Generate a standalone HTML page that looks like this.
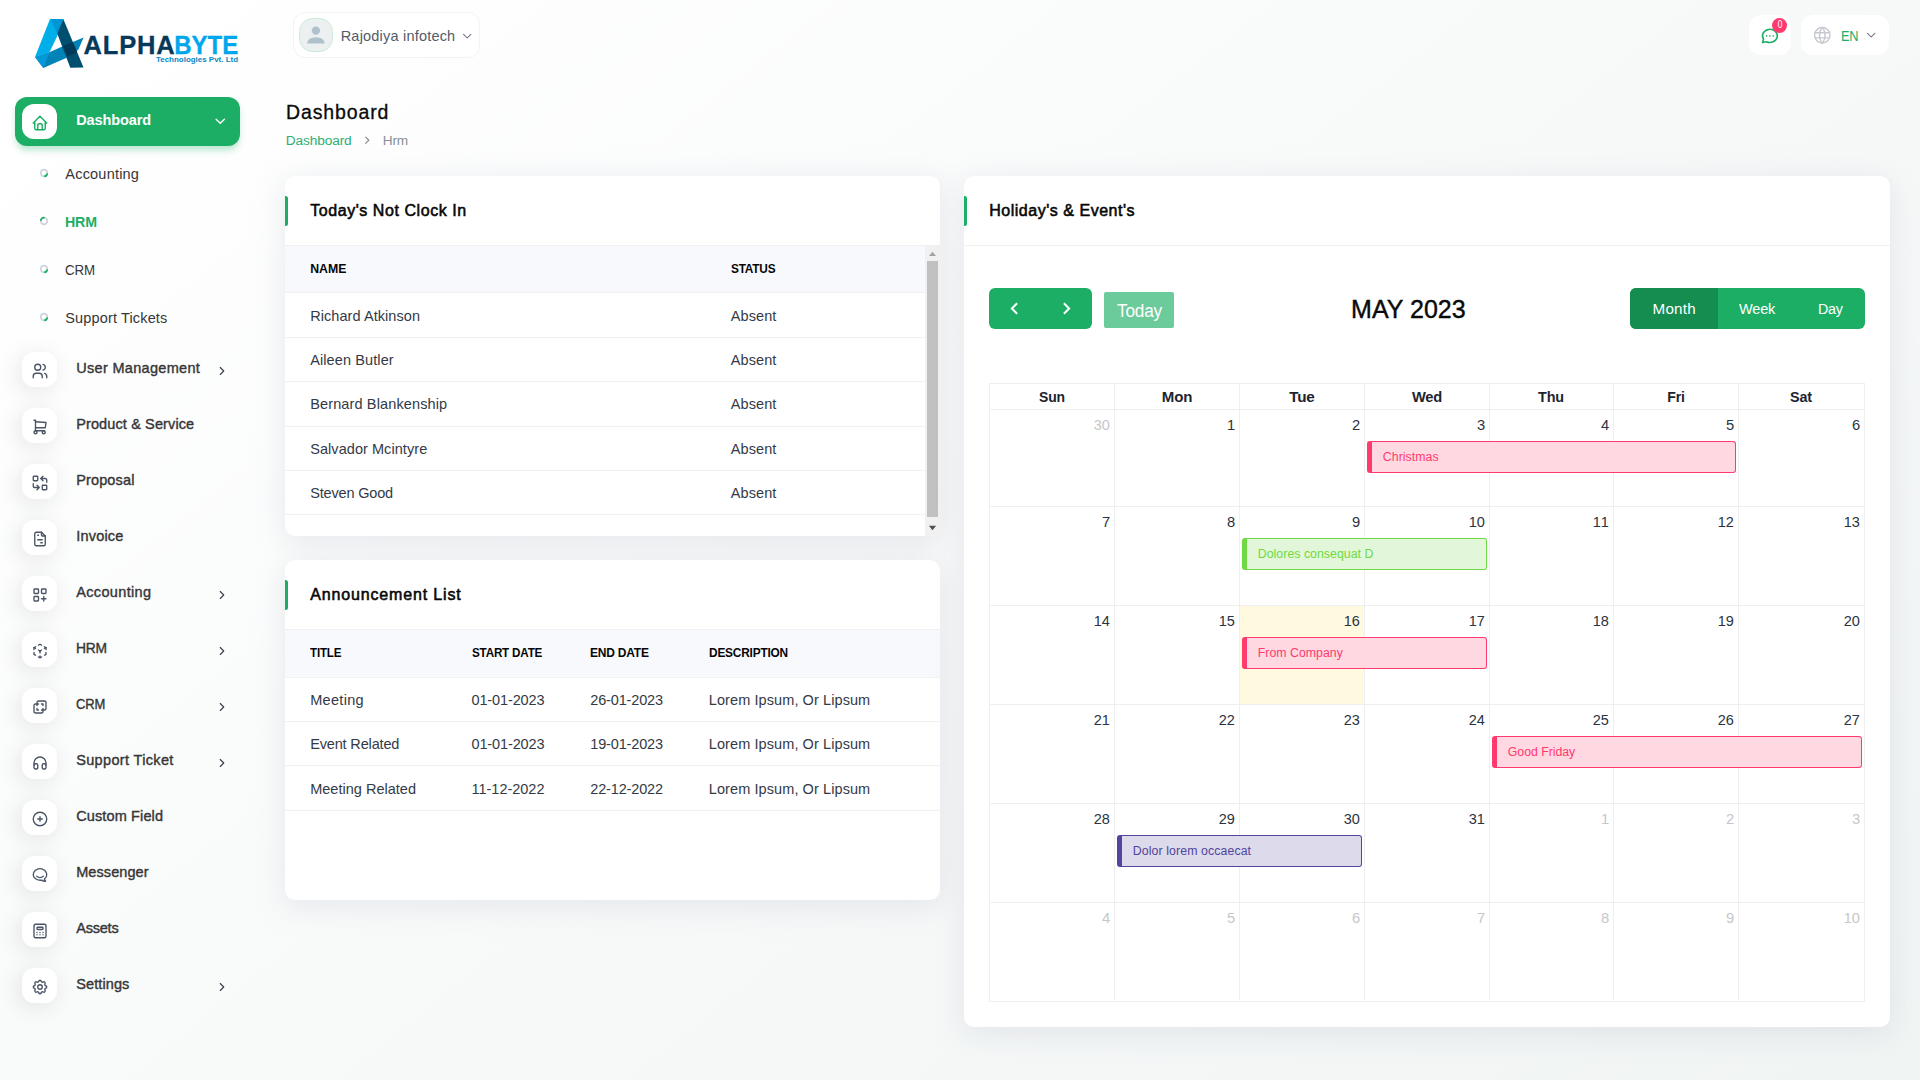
<!DOCTYPE html>
<html lang="en"><head><meta charset="utf-8"><title>Dashboard - HRM</title>
<style>
html,body{margin:0;padding:0}
body{width:1920px;height:1080px;overflow:hidden;position:relative;font-family:"Liberation Sans", Arial, sans-serif;
background:linear-gradient(141.55deg,rgba(240,244,243,0) 3.46%,#f0f4f3 99.86%),#fff}
.t{position:absolute;white-space:nowrap;margin:0;padding:0}
.mic{position:absolute;width:35px;height:35px;border-radius:12px;background:#fff;box-shadow:-3px 4px 23px rgba(0,0,0,.1)}
.card{position:absolute;background:#fff;border-radius:10px;box-shadow:0 6px 30px rgba(182,186,203,.3)}
</style></head>
<body>
<aside>
<svg style="position:absolute;left:30px;top:14px" width="215" height="60" viewBox="30 14 215 60">
<polygon points="50,19 63.3,19 57.2,35.9 50.6,50.1 49.4,52.3 35,57.1" fill="#00aeea"/>
<polygon points="50.6,19 63.3,19 57.2,33.4" fill="#0096d6"/>
<polygon points="35,57.1 49.4,52.3 61.7,46.8 73.3,41.8 83.6,37.6 78.3,49.8 66.1,57.9 43.3,67.9" fill="#0083b7"/>
<polygon points="35,57.1 49.6,52.2 43.3,67.9" fill="#0098d6"/>
<polygon points="63.3,19 83.5,67.5 70.3,67.7 57.2,33.4" fill="#004f70"/>
<polygon points="62.8,46.2 72.8,42.1 77.3,52.4 67.3,56.5" fill="#003a58"/>
<text x="83.6" y="53.75" font-family='"Liberation Sans", Arial, sans-serif' font-weight="700" font-size="25.5" textLength="91" lengthAdjust="spacing" fill="#06395a" stroke="#06395a" stroke-width="0.3">ALPHA</text>
<text x="174.3" y="53.75" font-family='"Liberation Sans", Arial, sans-serif' font-weight="700" font-size="25.5" textLength="63.9" lengthAdjust="spacingAndGlyphs" fill="#00a7ec" stroke="#00a7ec" stroke-width="0.3">BYTE</text>
<text x="156" y="62.4" font-family='"Liberation Sans", Arial, sans-serif' font-weight="700" font-size="7.6" textLength="82" lengthAdjust="spacingAndGlyphs" fill="#0a86c2">Technologies Pvt. Ltd</text>
</svg>
<nav>
<div style="position:absolute;left:15px;top:97px;width:225px;height:49px;border-radius:12px;background:#1cae65;box-shadow:0 5px 7px -1px rgba(20,173,98,.3)"></div>
<div class="mic" style="left:22px;top:104px;box-shadow:none"></div>
<svg style="position:absolute;left:31.10px;top:113.50px" width="18" height="18" viewBox="0 0 24 24" fill="none" stroke="#1cae65" stroke-width="1.9" stroke-linecap="round" stroke-linejoin="round" ><path d="M5 12l-2 0l9 -9l9 9l-2 0"/><path d="M5 12v7a2 2 0 0 0 2 2h10a2 2 0 0 0 2 -2v-7"/><path d="M9 21v-6a2 2 0 0 1 2 -2h2a2 2 0 0 1 2 2v6"/></svg>
<div class="t" style="top:109.00px;font-size:14.5px;line-height:22px;color:#fff;font-weight:700;letter-spacing:-0.094px;left:76.20px;">Dashboard</div>
<svg style="position:absolute;left:212.25px;top:113.05px" width="16.5" height="16.5" viewBox="0 0 24 24" fill="none" stroke="#fff" stroke-width="2.0" stroke-linecap="round" stroke-linejoin="round" ><path d="M6 9l6 6l6 -6"/></svg>
<svg style="position:absolute;left:38px;top:167.2px" width="12" height="12" viewBox="-6 -6 12 12" fill="none" stroke-width="1.7" stroke-linecap="butt"><circle cx="0" cy="0" r="3.3" stroke="#ced2dd"/><path d="M 3.3 0.3 A 3.3 3.3 0 0 1 0.2 3.3" stroke="#1cae65"/></svg>
<div class="t" style="top:162.50px;font-size:14.5px;line-height:22px;color:#363636;letter-spacing:0.206px;left:65.30px;">Accounting</div>
<svg style="position:absolute;left:38px;top:215.2px" width="12" height="12" viewBox="-6 -6 12 12" fill="none" stroke-width="1.7" stroke-linecap="butt"><circle cx="0" cy="0" r="3.3" stroke="#ced2dd"/><path d="M -3.3 0 A 3.3 3.3 0 0 1 0.6 -3.25" stroke="#1cae65"/></svg>
<div class="t" style="top:210.50px;font-size:14.5px;line-height:22px;color:#1cae65;font-weight:700;letter-spacing:-0.200px;left:65.30px;transform-origin:0 50%;transform:scaleX(0.9807);">HRM</div>
<svg style="position:absolute;left:38px;top:263.2px" width="12" height="12" viewBox="-6 -6 12 12" fill="none" stroke-width="1.7" stroke-linecap="butt"><circle cx="0" cy="0" r="3.3" stroke="#ced2dd"/><path d="M 3.3 0.3 A 3.3 3.3 0 0 1 0.2 3.3" stroke="#1cae65"/></svg>
<div class="t" style="top:258.50px;font-size:14.5px;line-height:22px;color:#363636;letter-spacing:-0.200px;left:65.30px;transform-origin:0 50%;transform:scaleX(0.9194);">CRM</div>
<svg style="position:absolute;left:38px;top:311.2px" width="12" height="12" viewBox="-6 -6 12 12" fill="none" stroke-width="1.7" stroke-linecap="butt"><circle cx="0" cy="0" r="3.3" stroke="#ced2dd"/><path d="M 3.3 0.3 A 3.3 3.3 0 0 1 0.2 3.3" stroke="#1cae65"/></svg>
<div class="t" style="top:306.50px;font-size:14.5px;line-height:22px;color:#363636;letter-spacing:0.147px;left:65.30px;">Support Tickets</div>
<div class="mic" style="left:22px;top:352px"></div>
<svg style="position:absolute;left:30.70px;top:361.80px" width="18" height="18" viewBox="0 0 24 24" fill="none" stroke="#4a5464" stroke-width="1.8" stroke-linecap="round" stroke-linejoin="round" ><circle cx="9" cy="7" r="4"/><path d="M3 21v-2a4 4 0 0 1 4 -4h4a4 4 0 0 1 4 4v2"/><path d="M16 3.13a4 4 0 0 1 0 7.75"/><path d="M21 21v-2a4 4 0 0 0 -3 -3.85"/></svg>
<div class="t" style="top:357.00px;font-size:14.5px;line-height:22px;color:#363636;letter-spacing:0.316px;left:76.20px;-webkit-text-stroke:0.38px #363636;">User Management</div>
<svg style="position:absolute;left:214.70px;top:363.80px" width="14" height="14" viewBox="0 0 24 24" fill="none" stroke="#3a3f48" stroke-width="1.9" stroke-linecap="round" stroke-linejoin="round" ><path d="M9 18l6 -6l-6 -6"/></svg>
<div class="mic" style="left:22px;top:408px"></div>
<svg style="position:absolute;left:30.70px;top:417.80px" width="18" height="18" viewBox="0 0 24 24" fill="none" stroke="#4a5464" stroke-width="1.8" stroke-linecap="round" stroke-linejoin="round" ><circle cx="6" cy="19" r="2"/><circle cx="17" cy="19" r="2"/><path d="M17 17h-11v-14h-2"/><path d="M6 5l14 1l-1 7h-13"/></svg>
<div class="t" style="top:413.00px;font-size:14.5px;line-height:22px;color:#363636;letter-spacing:0.121px;left:76.20px;-webkit-text-stroke:0.38px #363636;">Product &amp; Service</div>
<div class="mic" style="left:22px;top:464px"></div>
<svg style="position:absolute;left:30.70px;top:473.80px" width="18" height="18" viewBox="0 0 24 24" fill="none" stroke="#4a5464" stroke-width="1.8" stroke-linecap="round" stroke-linejoin="round" ><rect x="3" y="3" width="6" height="6" rx="1"/><rect x="15" y="15" width="6" height="6" rx="1"/><path d="M21 11v-3a2 2 0 0 0 -2 -2h-6l3 3m0 -6l-3 3"/><path d="M3 13v3a2 2 0 0 0 2 2h6l-3 -3m0 6l3 -3"/></svg>
<div class="t" style="top:469.00px;font-size:14.5px;line-height:22px;color:#363636;letter-spacing:0.138px;left:76.20px;-webkit-text-stroke:0.38px #363636;">Proposal</div>
<div class="mic" style="left:22px;top:520px"></div>
<svg style="position:absolute;left:30.70px;top:529.80px" width="18" height="18" viewBox="0 0 24 24" fill="none" stroke="#4a5464" stroke-width="1.8" stroke-linecap="round" stroke-linejoin="round" ><path d="M14 3v4a1 1 0 0 0 1 1h4"/><path d="M17 21h-10a2 2 0 0 1 -2 -2v-14a2 2 0 0 1 2 -2h7l5 5v11a2 2 0 0 1 -2 2z"/><path d="M9 7h1"/><path d="M9 13h6"/><path d="M13 17h2"/></svg>
<div class="t" style="top:525.00px;font-size:14.5px;line-height:22px;color:#363636;letter-spacing:0.208px;left:76.20px;-webkit-text-stroke:0.38px #363636;">Invoice</div>
<div class="mic" style="left:22px;top:576px"></div>
<svg style="position:absolute;left:30.70px;top:585.80px" width="18" height="18" viewBox="0 0 24 24" fill="none" stroke="#4a5464" stroke-width="1.8" stroke-linecap="round" stroke-linejoin="round" ><rect x="4" y="4" width="6" height="6" rx="1"/><rect x="14" y="4" width="6" height="6" rx="1"/><rect x="4" y="14" width="6" height="6" rx="1"/><path d="M14 17h6m-3 -3v6"/></svg>
<div class="t" style="top:581.00px;font-size:14.5px;line-height:22px;color:#363636;letter-spacing:0.350px;left:76.20px;-webkit-text-stroke:0.38px #363636;">Accounting</div>
<svg style="position:absolute;left:214.70px;top:587.80px" width="14" height="14" viewBox="0 0 24 24" fill="none" stroke="#3a3f48" stroke-width="1.9" stroke-linecap="round" stroke-linejoin="round" ><path d="M9 18l6 -6l-6 -6"/></svg>
<div class="mic" style="left:22px;top:632px"></div>
<svg style="position:absolute;left:30.70px;top:641.80px" width="18" height="18" viewBox="0 0 24 24" fill="none" stroke="#4a5464" stroke-width="1.8" stroke-linecap="round" stroke-linejoin="round" ><path d="M6 17.6l-2 -1.1v-2.5"/><path d="M4 10v-2.5l2 -1.1"/><path d="M10 4.1l2 -1.1l2 1.1"/><path d="M18 6.4l2 1.1v2.5"/><path d="M20 14v2.5l-2 1.12"/><path d="M14 19.9l-2 1.1l-2 -1.1"/><path d="M12 12l2 -1.1"/><path d="M18 8.6l2 -1.1"/><path d="M12 12v2.5"/><path d="M12 18.5v2.5"/><path d="M12 12l-2 -1.12"/><path d="M6 8.6l-2 -1.1"/></svg>
<div class="t" style="top:637.00px;font-size:14.5px;line-height:22px;color:#363636;letter-spacing:-0.200px;left:76.20px;transform-origin:0 50%;transform:scaleX(0.9531);-webkit-text-stroke:0.38px #363636;">HRM</div>
<svg style="position:absolute;left:214.70px;top:643.80px" width="14" height="14" viewBox="0 0 24 24" fill="none" stroke="#3a3f48" stroke-width="1.9" stroke-linecap="round" stroke-linejoin="round" ><path d="M9 18l6 -6l-6 -6"/></svg>
<div class="mic" style="left:22px;top:688px"></div>
<svg style="position:absolute;left:30.70px;top:697.80px" width="18" height="18" viewBox="0 0 24 24" fill="none" stroke="#4a5464" stroke-width="1.8" stroke-linecap="round" stroke-linejoin="round" ><path d="M16 16v2a2 2 0 0 1 -2 2h-8a2 2 0 0 1 -2 -2v-8a2 2 0 0 1 2 -2h2v-2a2 2 0 0 1 2 -2h8a2 2 0 0 1 2 2v8a2 2 0 0 1 -2 2h-2"/><path d="M10 8h-2v2"/><path d="M8 14v2h2"/><path d="M14 8h2v2"/><path d="M16 14v2h-2"/></svg>
<div class="t" style="top:693.00px;font-size:14.5px;line-height:22px;color:#363636;letter-spacing:-0.200px;left:76.20px;transform-origin:0 50%;transform:scaleX(0.8948);-webkit-text-stroke:0.38px #363636;">CRM</div>
<svg style="position:absolute;left:214.70px;top:699.80px" width="14" height="14" viewBox="0 0 24 24" fill="none" stroke="#3a3f48" stroke-width="1.9" stroke-linecap="round" stroke-linejoin="round" ><path d="M9 18l6 -6l-6 -6"/></svg>
<div class="mic" style="left:22px;top:744px"></div>
<svg style="position:absolute;left:30.70px;top:753.80px" width="18" height="18" viewBox="0 0 24 24" fill="none" stroke="#4a5464" stroke-width="1.8" stroke-linecap="round" stroke-linejoin="round" ><rect x="4" y="13" width="5" height="7" rx="2"/><rect x="15" y="13" width="5" height="7" rx="2"/><path d="M4 15v-3a8 8 0 0 1 16 0v3"/></svg>
<div class="t" style="top:749.00px;font-size:14.5px;line-height:22px;color:#363636;letter-spacing:0.347px;left:76.20px;-webkit-text-stroke:0.38px #363636;">Support Ticket</div>
<svg style="position:absolute;left:214.70px;top:755.80px" width="14" height="14" viewBox="0 0 24 24" fill="none" stroke="#3a3f48" stroke-width="1.9" stroke-linecap="round" stroke-linejoin="round" ><path d="M9 18l6 -6l-6 -6"/></svg>
<div class="mic" style="left:22px;top:800px"></div>
<svg style="position:absolute;left:30.70px;top:809.80px" width="18" height="18" viewBox="0 0 24 24" fill="none" stroke="#4a5464" stroke-width="1.8" stroke-linecap="round" stroke-linejoin="round" ><circle cx="12" cy="12" r="9"/><path d="M9 12h6"/><path d="M12 9v6"/></svg>
<div class="t" style="top:805.00px;font-size:14.5px;line-height:22px;color:#363636;letter-spacing:0.125px;left:76.20px;-webkit-text-stroke:0.38px #363636;">Custom Field</div>
<div class="mic" style="left:22px;top:856px"></div>
<svg style="position:absolute;left:30.70px;top:865.80px" width="18" height="18" viewBox="0 0 24 24" fill="none" stroke="#4a5464" stroke-width="1.8" stroke-linecap="round" stroke-linejoin="round" ><path d="M17.802 17.292s.077 -.055 .2 -.149c1.843 -1.425 3 -3.49 3 -5.789c0 -4.286 -4.03 -7.764 -9 -7.764c-4.97 0 -9 3.478 -9 7.764c0 4.288 4.03 7.646 9 7.646c.424 0 1.12 -.028 2.088 -.084c1.262 .82 3.104 1.493 4.716 1.493c.499 0 .734 -.41 .414 -.828c-.486 -.596 -1.156 -1.551 -1.416 -2.29z"/><path d="M7.5 13.5c2.5 2.5 6.5 2.5 9 0"/></svg>
<div class="t" style="top:861.00px;font-size:14.5px;line-height:22px;color:#363636;letter-spacing:0.083px;left:76.20px;-webkit-text-stroke:0.38px #363636;">Messenger</div>
<div class="mic" style="left:22px;top:912px"></div>
<svg style="position:absolute;left:30.70px;top:921.80px" width="18" height="18" viewBox="0 0 24 24" fill="none" stroke="#4a5464" stroke-width="1.8" stroke-linecap="round" stroke-linejoin="round" ><rect x="4" y="3" width="16" height="18" rx="2"/><rect x="8" y="7" width="8" height="3" rx="1"/><path d="M8 14v.01"/><path d="M12 14v.01"/><path d="M16 14v.01"/><path d="M8 17v.01"/><path d="M12 17v.01"/><path d="M16 17v.01"/></svg>
<div class="t" style="top:917.00px;font-size:14.5px;line-height:22px;color:#363636;letter-spacing:-0.203px;left:76.20px;-webkit-text-stroke:0.38px #363636;">Assets</div>
<div class="mic" style="left:22px;top:968px"></div>
<svg style="position:absolute;left:30.70px;top:977.80px" width="18" height="18" viewBox="0 0 24 24" fill="none" stroke="#4a5464" stroke-width="1.8" stroke-linecap="round" stroke-linejoin="round" ><path d="M10.325 4.317c.426 -1.756 2.924 -1.756 3.35 0a1.724 1.724 0 0 0 2.573 1.066c1.543 -.94 3.31 .826 2.37 2.37a1.724 1.724 0 0 0 1.065 2.572c1.756 .426 1.756 2.924 0 3.35a1.724 1.724 0 0 0 -1.066 2.573c.94 1.543 -.826 3.31 -2.37 2.37a1.724 1.724 0 0 0 -2.572 1.065c-.426 1.756 -2.924 1.756 -3.35 0a1.724 1.724 0 0 0 -2.573 -1.066c-1.543 .94 -3.31 -.826 -2.37 -2.37a1.724 1.724 0 0 0 -1.065 -2.572c-1.756 -.426 -1.756 -2.924 0 -3.35a1.724 1.724 0 0 0 1.066 -2.573c-.94 -1.543 .826 -3.31 2.37 -2.37c1 .608 2.296 .07 2.572 -1.065z"/><circle cx="12" cy="12" r="3"/></svg>
<div class="t" style="top:973.00px;font-size:14.5px;line-height:22px;color:#363636;letter-spacing:0.113px;left:76.20px;-webkit-text-stroke:0.38px #363636;">Settings</div>
<svg style="position:absolute;left:214.70px;top:979.80px" width="14" height="14" viewBox="0 0 24 24" fill="none" stroke="#3a3f48" stroke-width="1.9" stroke-linecap="round" stroke-linejoin="round" ><path d="M9 18l6 -6l-6 -6"/></svg>
</nav></aside>
<header>
<div style="position:absolute;left:293.4px;top:11.6px;width:186.2px;height:46.6px;box-sizing:border-box;border:1px solid #f3f3f3;border-radius:12px;background:#fff"></div>
<div style="position:absolute;left:299px;top:18px;width:34px;height:34px;box-sizing:border-box;border:1px solid #c9ecd9;border-radius:13.5px;background:#ecf0f1;overflow:hidden"><svg width="32" height="32" viewBox="0 0 32 32" style="display:block"><circle cx="15.9" cy="11.6" r="4.15" fill="#afc2cc"/><path d="M7.2 24.4c0-3.3 3.4-6.2 8.7-6.2s8.7 2.9 8.7 6.2z" fill="#afc2cc"/></svg></div>
<div class="t" style="top:24.50px;font-size:14.5px;line-height:22px;color:#525b69;letter-spacing:0.203px;left:340.70px;">Rajodiya infotech</div>
<svg style="position:absolute;left:460.00px;top:28.60px" width="14.4" height="14.4" viewBox="0 0 24 24" fill="none" stroke="#656d79" stroke-width="1.7" stroke-linecap="round" stroke-linejoin="round" ><path d="M6 9l6 6l6 -6"/></svg>
<div style="position:absolute;left:1749px;top:15px;width:42px;height:40px;border-radius:12px;background:#fff"></div>
<svg style="position:absolute;left:1759.90px;top:25.90px" width="19.8" height="19.8" viewBox="0 0 24 24" fill="none" stroke="#1cae65" stroke-width="1.9" stroke-linecap="round" stroke-linejoin="round" ><path d="M3 20l1.3 -3.9a9 8 0 1 1 3.4 2.9l-4.7 1"/><path d="M12 12v.01"/><path d="M8 12v.01"/><path d="M16 12v.01"/></svg>
<div style="position:absolute;left:1772.2px;top:17.9px;width:14.8px;height:14.8px;border-radius:50%;background:#ff3a6e"></div>
<div class="t" style="top:17.10px;font-size:10.2px;line-height:15px;color:#fff;left:1779.80px;transform:translateX(-50%) scaleX(0.8110);">0</div>
<div style="position:absolute;left:1801px;top:15px;width:88px;height:40px;border-radius:12px;background:#fff"></div>
<svg style="position:absolute;left:1811.90px;top:25.40px" width="20.6" height="20.6" viewBox="0 0 24 24" fill="none" stroke="#c6c9d0" stroke-width="1.7" stroke-linecap="round" stroke-linejoin="round" ><circle cx="12" cy="12" r="9"/><path d="M3.6 9h16.8"/><path d="M3.6 15h16.8"/><path d="M11.5 3a17 17 0 0 0 0 18"/><path d="M12.5 3a17 17 0 0 1 0 18"/></svg>
<div class="t" style="top:24.70px;font-size:14.5px;line-height:22px;color:#1cae65;letter-spacing:-0.200px;left:1840.60px;transform-origin:0 50%;transform:scaleX(0.8819);">EN</div>
<svg style="position:absolute;left:1863.80px;top:28.40px" width="14.4" height="14.4" viewBox="0 0 24 24" fill="none" stroke="#656d79" stroke-width="1.7" stroke-linecap="round" stroke-linejoin="round" ><path d="M6 9l6 6l6 -6"/></svg>
</header>
<main>
<div class="t" style="top:98.40px;font-size:19.5px;line-height:29px;color:#0a0a0a;letter-spacing:0.874px;left:286.00px;-webkit-text-stroke:0.3px #0a0a0a;">Dashboard</div>
<div class="t" style="top:131.30px;font-size:13.7px;line-height:20px;color:#2fae72;letter-spacing:-0.121px;left:285.70px;">Dashboard</div>
<svg style="position:absolute;left:360.55px;top:133.85px" width="12.5" height="12.5" viewBox="0 0 24 24" fill="none" stroke="#8b919b" stroke-width="2.4" stroke-linecap="round" stroke-linejoin="round" ><path d="M9 18l6 -6l-6 -6"/></svg>
<div class="t" style="top:131.30px;font-size:13.7px;line-height:20px;color:#8a9099;letter-spacing:-0.130px;left:382.70px;">Hrm</div>
<section>
<div class="card" style="left:285px;top:176px;width:655px;height:360px"></div>
<div style="position:absolute;left:285px;top:196px;width:3px;height:30px;background:#1cae65;border-radius:0 2.5px 2.5px 0"></div>
<div style="position:absolute;left:285px;top:245px;width:655px;height:1px;background:#f1f1f1"></div>
<div class="t" style="top:199.20px;font-size:16px;line-height:24px;color:#060606;letter-spacing:0.561px;left:310.20px;-webkit-text-stroke:0.55px #060606;">Today's Not Clock In</div>
<div style="position:absolute;left:285px;top:246px;width:640px;height:46px;background:#f8f9fd"></div>
<div style="position:absolute;left:285px;top:292px;width:640px;height:1px;background:#f1f1f1"></div>
<div class="t" style="top:260.00px;font-size:12.3px;line-height:18px;color:#060606;font-weight:700;letter-spacing:-0.006px;left:310.20px;">NAME</div>
<div class="t" style="top:260.00px;font-size:12.3px;line-height:18px;color:#060606;font-weight:700;letter-spacing:-0.200px;left:730.80px;transform-origin:0 50%;transform:scaleX(0.9617);">STATUS</div>
<div class="t" style="top:304.60px;font-size:14.5px;line-height:22px;color:#333a46;letter-spacing:0.066px;left:310.20px;">Richard Atkinson</div>
<div class="t" style="top:304.60px;font-size:14.5px;line-height:22px;color:#333a46;letter-spacing:0.089px;left:730.80px;">Absent</div>
<div style="position:absolute;left:285px;top:337.0px;width:640px;height:1px;background:#f1f1f1"></div>
<div class="t" style="top:348.90px;font-size:14.5px;line-height:22px;color:#333a46;letter-spacing:0.107px;left:310.20px;">Aileen Butler</div>
<div class="t" style="top:348.90px;font-size:14.5px;line-height:22px;color:#333a46;letter-spacing:0.089px;left:730.80px;">Absent</div>
<div style="position:absolute;left:285px;top:381.3px;width:640px;height:1px;background:#f1f1f1"></div>
<div class="t" style="top:393.20px;font-size:14.5px;line-height:22px;color:#333a46;letter-spacing:0.132px;left:310.20px;">Bernard Blankenship</div>
<div class="t" style="top:393.20px;font-size:14.5px;line-height:22px;color:#333a46;letter-spacing:0.089px;left:730.80px;">Absent</div>
<div style="position:absolute;left:285px;top:425.6px;width:640px;height:1px;background:#f1f1f1"></div>
<div class="t" style="top:437.50px;font-size:14.5px;line-height:22px;color:#333a46;letter-spacing:0.060px;left:310.20px;">Salvador Mcintyre</div>
<div class="t" style="top:437.50px;font-size:14.5px;line-height:22px;color:#333a46;letter-spacing:0.089px;left:730.80px;">Absent</div>
<div style="position:absolute;left:285px;top:469.9px;width:640px;height:1px;background:#f1f1f1"></div>
<div class="t" style="top:481.80px;font-size:14.5px;line-height:22px;color:#333a46;letter-spacing:-0.166px;left:310.20px;">Steven Good</div>
<div class="t" style="top:481.80px;font-size:14.5px;line-height:22px;color:#333a46;letter-spacing:0.089px;left:730.80px;">Absent</div>
<div style="position:absolute;left:285px;top:514.2px;width:640px;height:1px;background:#f1f1f1"></div>
<div style="position:absolute;left:925px;top:246px;width:15px;height:290px;background:#f1f1f1;border-radius:0 0 10px 0"></div>
<div style="position:absolute;left:927px;top:261px;width:11px;height:255.9px;background:#c1c1c1"></div>
<svg style="position:absolute;left:925px;top:246px" width="15" height="290" viewBox="0 0 15 290"><path d="M3.9 10.1h7.2l-3.6-4.4z" fill="#a3a3a3"/><path d="M3.9 279.8h7.2l-3.6 4.4z" fill="#505050"/></svg>
</section>
<section>
<div class="card" style="left:285px;top:560px;width:655px;height:340px"></div>
<div style="position:absolute;left:285px;top:580px;width:3px;height:30px;background:#1cae65;border-radius:0 2.5px 2.5px 0"></div>
<div style="position:absolute;left:285px;top:629px;width:655px;height:1px;background:#f1f1f1"></div>
<div class="t" style="top:583.20px;font-size:16px;line-height:24px;color:#060606;letter-spacing:0.851px;left:310.20px;-webkit-text-stroke:0.55px #060606;">Announcement List</div>
<div style="position:absolute;left:285px;top:630px;width:655px;height:47px;background:#f8f9fd"></div>
<div style="position:absolute;left:285px;top:677px;width:655px;height:1px;background:#f1f1f1"></div>
<div class="t" style="top:644.30px;font-size:12.3px;line-height:18px;color:#060606;font-weight:700;letter-spacing:-0.200px;left:310.20px;transform-origin:0 50%;transform:scaleX(0.9414);">TITLE</div>
<div class="t" style="top:644.30px;font-size:12.3px;line-height:18px;color:#060606;font-weight:700;letter-spacing:-0.200px;left:471.50px;transform-origin:0 50%;transform:scaleX(0.9480);">START DATE</div>
<div class="t" style="top:644.30px;font-size:12.3px;line-height:18px;color:#060606;font-weight:700;letter-spacing:-0.200px;left:590.30px;transform-origin:0 50%;transform:scaleX(0.9744);">END DATE</div>
<div class="t" style="top:644.30px;font-size:12.3px;line-height:18px;color:#060606;font-weight:700;letter-spacing:-0.200px;left:708.80px;transform-origin:0 50%;transform:scaleX(0.9653);">DESCRIPTION</div>
<div class="t" style="top:688.50px;font-size:14.5px;line-height:22px;color:#333a46;letter-spacing:0.318px;left:310.20px;">Meeting</div>
<div class="t" style="top:688.50px;font-size:14.5px;line-height:22px;color:#333a46;letter-spacing:-0.130px;left:471.50px;">01-01-2023</div>
<div class="t" style="top:688.50px;font-size:14.5px;line-height:22px;color:#333a46;letter-spacing:-0.152px;left:590.30px;">26-01-2023</div>
<div class="t" style="top:688.50px;font-size:14.5px;line-height:22px;color:#333a46;letter-spacing:0.088px;left:708.80px;">Lorem Ipsum, Or Lipsum</div>
<div style="position:absolute;left:285px;top:721px;width:655px;height:1px;background:#f1f1f1"></div>
<div class="t" style="top:733.00px;font-size:14.5px;line-height:22px;color:#333a46;letter-spacing:-0.158px;left:310.20px;">Event Related</div>
<div class="t" style="top:733.00px;font-size:14.5px;line-height:22px;color:#333a46;letter-spacing:-0.130px;left:471.50px;">01-01-2023</div>
<div class="t" style="top:733.00px;font-size:14.5px;line-height:22px;color:#333a46;letter-spacing:-0.152px;left:590.30px;">19-01-2023</div>
<div class="t" style="top:733.00px;font-size:14.5px;line-height:22px;color:#333a46;letter-spacing:0.088px;left:708.80px;">Lorem Ipsum, Or Lipsum</div>
<div style="position:absolute;left:285px;top:765px;width:655px;height:1px;background:#f1f1f1"></div>
<div class="t" style="top:777.50px;font-size:14.5px;line-height:22px;color:#333a46;letter-spacing:0.015px;left:310.20px;">Meeting Related</div>
<div class="t" style="top:777.50px;font-size:14.5px;line-height:22px;color:#333a46;letter-spacing:-0.012px;left:471.50px;">11-12-2022</div>
<div class="t" style="top:777.50px;font-size:14.5px;line-height:22px;color:#333a46;letter-spacing:-0.152px;left:590.30px;">22-12-2022</div>
<div class="t" style="top:777.50px;font-size:14.5px;line-height:22px;color:#333a46;letter-spacing:0.088px;left:708.80px;">Lorem Ipsum, Or Lipsum</div>
<div style="position:absolute;left:285px;top:810px;width:655px;height:1px;background:#f1f1f1"></div>
</section>
<section>
<div class="card" style="left:964px;top:176px;width:926px;height:851px"></div>
<div style="position:absolute;left:964px;top:196px;width:3px;height:30px;background:#1cae65;border-radius:0 2.5px 2.5px 0"></div>
<div style="position:absolute;left:964px;top:245px;width:926px;height:1px;background:#f1f1f1"></div>
<div class="t" style="top:199.20px;font-size:16px;line-height:24px;color:#060606;letter-spacing:0.525px;left:989.20px;-webkit-text-stroke:0.55px #060606;">Holiday's &amp; Event's</div>
<div style="position:absolute;left:989px;top:288px;width:103px;height:41px;border-radius:6px;background:#1cae65"></div>
<svg style="position:absolute;left:1004.40px;top:298.40px" width="21" height="21" viewBox="0 0 24 24" fill="none" stroke="#fff" stroke-width="2.3" stroke-linecap="butt" stroke-linejoin="miter" ><path d="M15 18l-6 -6l6 -6"/></svg>
<svg style="position:absolute;left:1055.80px;top:298.40px" width="21" height="21" viewBox="0 0 24 24" fill="none" stroke="#fff" stroke-width="2.3" stroke-linecap="butt" stroke-linejoin="miter" ><path d="M9 18l6 -6l-6 -6"/></svg>
<div style="position:absolute;left:1104px;top:292px;width:70px;height:36px;border-radius:2px;background:#6bcb9b"></div>
<div class="t" style="top:297.70px;font-size:17.6px;line-height:26px;color:#fff;letter-spacing:-0.200px;left:1117.00px;transform-origin:0 50%;transform:scaleX(0.9793);">Today</div>
<div class="t" style="top:290.00px;font-size:25px;line-height:38px;color:#0a0a0a;letter-spacing:0.023px;left:1408.41px;transform:translateX(-50%) ;-webkit-text-stroke:0.4px #0a0a0a;">MAY 2023</div>
<div style="position:absolute;left:1630px;top:288px;width:235px;height:41px;border-radius:6px;background:#1cae65;overflow:hidden"><div style="width:88px;height:41px;background:#158c50"></div></div>
<div class="t" style="top:297.10px;font-size:15.2px;line-height:23px;color:#fff;letter-spacing:0.245px;left:1652.50px;">Month</div>
<div class="t" style="top:297.10px;font-size:15.2px;line-height:23px;color:#fff;letter-spacing:-0.200px;left:1738.70px;transform-origin:0 50%;transform:scaleX(0.9588);">Week</div>
<div class="t" style="top:297.10px;font-size:15.2px;line-height:23px;color:#fff;letter-spacing:-0.200px;left:1818.20px;transform-origin:0 50%;transform:scaleX(0.9393);">Day</div>
<div style="position:absolute;left:1240px;top:606px;width:124px;height:98px;background:#fff9e0"></div>
<div style="position:absolute;left:989px;top:383px;width:1px;height:619px;background:#efefef"></div>
<div style="position:absolute;left:1114px;top:383px;width:1px;height:617px;background:#efefef"></div>
<div style="position:absolute;left:1239px;top:383px;width:1px;height:617px;background:#efefef"></div>
<div style="position:absolute;left:1364px;top:383px;width:1px;height:617px;background:#efefef"></div>
<div style="position:absolute;left:1489px;top:383px;width:1px;height:617px;background:#efefef"></div>
<div style="position:absolute;left:1613px;top:383px;width:1px;height:617px;background:#efefef"></div>
<div style="position:absolute;left:1738px;top:383px;width:1px;height:617px;background:#efefef"></div>
<div style="position:absolute;left:1864px;top:383px;width:1px;height:619px;background:#efefef"></div>
<div style="position:absolute;left:989px;top:383px;width:876px;height:1px;background:#efefef"></div>
<div style="position:absolute;left:989px;top:409px;width:876px;height:1px;background:#efefef"></div>
<div style="position:absolute;left:989px;top:506px;width:876px;height:1px;background:#efefef"></div>
<div style="position:absolute;left:989px;top:605px;width:876px;height:1px;background:#efefef"></div>
<div style="position:absolute;left:989px;top:704px;width:876px;height:1px;background:#efefef"></div>
<div style="position:absolute;left:989px;top:803px;width:876px;height:1px;background:#efefef"></div>
<div style="position:absolute;left:989px;top:902px;width:876px;height:1px;background:#efefef"></div>
<div style="position:absolute;left:989px;top:1001px;width:876px;height:1px;background:#efefef"></div>
<div class="t" style="top:385.30px;font-size:15.2px;line-height:23px;color:#1d2430;font-weight:700;letter-spacing:-0.200px;left:1051.90px;transform:translateX(-50%) scaleX(0.9191);">Sun</div>
<div class="t" style="top:385.30px;font-size:15.2px;line-height:23px;color:#1d2430;font-weight:700;letter-spacing:-0.200px;left:1176.90px;transform:translateX(-50%) scaleX(0.9897);">Mon</div>
<div class="t" style="top:385.30px;font-size:15.2px;line-height:23px;color:#1d2430;font-weight:700;letter-spacing:-0.238px;left:1301.88px;transform:translateX(-50%) ;">Tue</div>
<div class="t" style="top:385.30px;font-size:15.2px;line-height:23px;color:#1d2430;font-weight:700;letter-spacing:-0.200px;left:1426.90px;transform:translateX(-50%) scaleX(0.9682);">Wed</div>
<div class="t" style="top:385.30px;font-size:15.2px;line-height:23px;color:#1d2430;font-weight:700;letter-spacing:-0.200px;left:1551.40px;transform:translateX(-50%) scaleX(0.9474);">Thu</div>
<div class="t" style="top:385.30px;font-size:15.2px;line-height:23px;color:#1d2430;font-weight:700;letter-spacing:-0.200px;left:1675.90px;transform:translateX(-50%) scaleX(0.9253);">Fri</div>
<div class="t" style="top:385.30px;font-size:15.2px;line-height:23px;color:#1d2430;font-weight:700;letter-spacing:-0.200px;left:1801.40px;transform:translateX(-50%) scaleX(0.9466);">Sat</div>
<div class="t" style="top:414.00px;font-size:14.5px;line-height:22px;color:#c5c7c9;letter-spacing:0.059px;right:810.14px;">30</div>
<div class="t" style="top:414.00px;font-size:14.5px;line-height:22px;color:#2b3340;right:685.20px;transform-origin:100% 50%;transform:scaleX(1.0151);">1</div>
<div class="t" style="top:414.00px;font-size:14.5px;line-height:22px;color:#2b3340;right:560.20px;transform-origin:100% 50%;transform:scaleX(1.0151);">2</div>
<div class="t" style="top:414.00px;font-size:14.5px;line-height:22px;color:#2b3340;right:435.20px;transform-origin:100% 50%;transform:scaleX(1.0151);">3</div>
<div class="t" style="top:414.00px;font-size:14.5px;line-height:22px;color:#2b3340;right:311.20px;transform-origin:100% 50%;transform:scaleX(1.0151);">4</div>
<div class="t" style="top:414.00px;font-size:14.5px;line-height:22px;color:#2b3340;right:186.20px;transform-origin:100% 50%;transform:scaleX(1.0151);">5</div>
<div class="t" style="top:414.00px;font-size:14.5px;line-height:22px;color:#2b3340;right:60.20px;transform-origin:100% 50%;transform:scaleX(1.0151);">6</div>
<div class="t" style="top:511.00px;font-size:14.5px;line-height:22px;color:#2b3340;right:810.20px;transform-origin:100% 50%;transform:scaleX(1.0151);">7</div>
<div class="t" style="top:511.00px;font-size:14.5px;line-height:22px;color:#2b3340;right:685.20px;transform-origin:100% 50%;transform:scaleX(1.0151);">8</div>
<div class="t" style="top:511.00px;font-size:14.5px;line-height:22px;color:#2b3340;right:560.20px;transform-origin:100% 50%;transform:scaleX(1.0151);">9</div>
<div class="t" style="top:511.00px;font-size:14.5px;line-height:22px;color:#2b3340;letter-spacing:0.059px;right:435.14px;">10</div>
<div class="t" style="top:511.00px;font-size:14.5px;line-height:22px;color:#2b3340;letter-spacing:1.137px;right:310.06px;">11</div>
<div class="t" style="top:511.00px;font-size:14.5px;line-height:22px;color:#2b3340;letter-spacing:0.059px;right:186.14px;">12</div>
<div class="t" style="top:511.00px;font-size:14.5px;line-height:22px;color:#2b3340;letter-spacing:0.059px;right:60.14px;">13</div>
<div class="t" style="top:610.00px;font-size:14.5px;line-height:22px;color:#2b3340;letter-spacing:0.059px;right:810.14px;">14</div>
<div class="t" style="top:610.00px;font-size:14.5px;line-height:22px;color:#2b3340;letter-spacing:0.059px;right:685.14px;">15</div>
<div class="t" style="top:610.00px;font-size:14.5px;line-height:22px;color:#2b3340;letter-spacing:0.059px;right:560.14px;">16</div>
<div class="t" style="top:610.00px;font-size:14.5px;line-height:22px;color:#2b3340;letter-spacing:0.059px;right:435.14px;">17</div>
<div class="t" style="top:610.00px;font-size:14.5px;line-height:22px;color:#2b3340;letter-spacing:0.059px;right:311.14px;">18</div>
<div class="t" style="top:610.00px;font-size:14.5px;line-height:22px;color:#2b3340;letter-spacing:0.059px;right:186.14px;">19</div>
<div class="t" style="top:610.00px;font-size:14.5px;line-height:22px;color:#2b3340;letter-spacing:0.059px;right:60.14px;">20</div>
<div class="t" style="top:709.00px;font-size:14.5px;line-height:22px;color:#2b3340;letter-spacing:0.059px;right:810.14px;">21</div>
<div class="t" style="top:709.00px;font-size:14.5px;line-height:22px;color:#2b3340;letter-spacing:0.059px;right:685.14px;">22</div>
<div class="t" style="top:709.00px;font-size:14.5px;line-height:22px;color:#2b3340;letter-spacing:0.059px;right:560.14px;">23</div>
<div class="t" style="top:709.00px;font-size:14.5px;line-height:22px;color:#2b3340;letter-spacing:0.059px;right:435.14px;">24</div>
<div class="t" style="top:709.00px;font-size:14.5px;line-height:22px;color:#2b3340;letter-spacing:0.059px;right:311.14px;">25</div>
<div class="t" style="top:709.00px;font-size:14.5px;line-height:22px;color:#2b3340;letter-spacing:0.059px;right:186.14px;">26</div>
<div class="t" style="top:709.00px;font-size:14.5px;line-height:22px;color:#2b3340;letter-spacing:0.059px;right:60.14px;">27</div>
<div class="t" style="top:808.00px;font-size:14.5px;line-height:22px;color:#2b3340;letter-spacing:0.059px;right:810.14px;">28</div>
<div class="t" style="top:808.00px;font-size:14.5px;line-height:22px;color:#2b3340;letter-spacing:0.059px;right:685.14px;">29</div>
<div class="t" style="top:808.00px;font-size:14.5px;line-height:22px;color:#2b3340;letter-spacing:0.059px;right:560.14px;">30</div>
<div class="t" style="top:808.00px;font-size:14.5px;line-height:22px;color:#2b3340;letter-spacing:0.059px;right:435.14px;">31</div>
<div class="t" style="top:808.00px;font-size:14.5px;line-height:22px;color:#c5c7c9;right:311.20px;transform-origin:100% 50%;transform:scaleX(1.0151);">1</div>
<div class="t" style="top:808.00px;font-size:14.5px;line-height:22px;color:#c5c7c9;right:186.20px;transform-origin:100% 50%;transform:scaleX(1.0151);">2</div>
<div class="t" style="top:808.00px;font-size:14.5px;line-height:22px;color:#c5c7c9;right:60.20px;transform-origin:100% 50%;transform:scaleX(1.0151);">3</div>
<div class="t" style="top:907.00px;font-size:14.5px;line-height:22px;color:#c5c7c9;right:810.20px;transform-origin:100% 50%;transform:scaleX(1.0151);">4</div>
<div class="t" style="top:907.00px;font-size:14.5px;line-height:22px;color:#c5c7c9;right:685.20px;transform-origin:100% 50%;transform:scaleX(1.0151);">5</div>
<div class="t" style="top:907.00px;font-size:14.5px;line-height:22px;color:#c5c7c9;right:560.20px;transform-origin:100% 50%;transform:scaleX(1.0151);">6</div>
<div class="t" style="top:907.00px;font-size:14.5px;line-height:22px;color:#c5c7c9;right:435.20px;transform-origin:100% 50%;transform:scaleX(1.0151);">7</div>
<div class="t" style="top:907.00px;font-size:14.5px;line-height:22px;color:#c5c7c9;right:311.20px;transform-origin:100% 50%;transform:scaleX(1.0151);">8</div>
<div class="t" style="top:907.00px;font-size:14.5px;line-height:22px;color:#c5c7c9;right:186.20px;transform-origin:100% 50%;transform:scaleX(1.0151);">9</div>
<div class="t" style="top:907.00px;font-size:14.5px;line-height:22px;color:#c5c7c9;letter-spacing:0.059px;right:60.14px;">10</div>
<div style="position:absolute;left:1367px;top:441px;width:369px;height:31.5px;box-sizing:border-box;border:1px solid #ff3a6e;border-left:5px solid #ff3a6e;border-radius:3px;background:#ffd8e2"></div>
<div class="t" style="top:447.60px;font-size:12.3px;line-height:18px;color:#ff3a6e;letter-spacing:0.057px;left:1382.80px;">Christmas</div>
<div style="position:absolute;left:1242px;top:538px;width:245px;height:31.5px;box-sizing:border-box;border:1px solid #6fd943;border-left:5px solid #6fd943;border-radius:3px;background:#e2f7d9"></div>
<div class="t" style="top:544.60px;font-size:12.3px;line-height:18px;color:#6fd943;letter-spacing:0.042px;left:1257.80px;">Dolores consequat D</div>
<div style="position:absolute;left:1242px;top:637px;width:245px;height:31.5px;box-sizing:border-box;border:1px solid #ff3a6e;border-left:5px solid #ff3a6e;border-radius:3px;background:#ffd8e2"></div>
<div class="t" style="top:643.60px;font-size:12.3px;line-height:18px;color:#ff3a6e;letter-spacing:0.024px;left:1257.80px;">From Company</div>
<div style="position:absolute;left:1492px;top:736px;width:370px;height:31.5px;box-sizing:border-box;border:1px solid #ff3a6e;border-left:5px solid #ff3a6e;border-radius:3px;background:#ffd8e2"></div>
<div class="t" style="top:742.60px;font-size:12.3px;line-height:18px;color:#ff3a6e;letter-spacing:-0.027px;left:1507.80px;">Good Friday</div>
<div style="position:absolute;left:1117px;top:835px;width:245px;height:31.5px;box-sizing:border-box;border:1px solid #51459d;border-left:5px solid #51459d;border-radius:3px;background:#dcdaeb"></div>
<div class="t" style="top:841.60px;font-size:12.3px;line-height:18px;color:#51459d;letter-spacing:0.106px;left:1132.80px;">Dolor lorem occaecat</div>
</section>
</main>
</body></html>
